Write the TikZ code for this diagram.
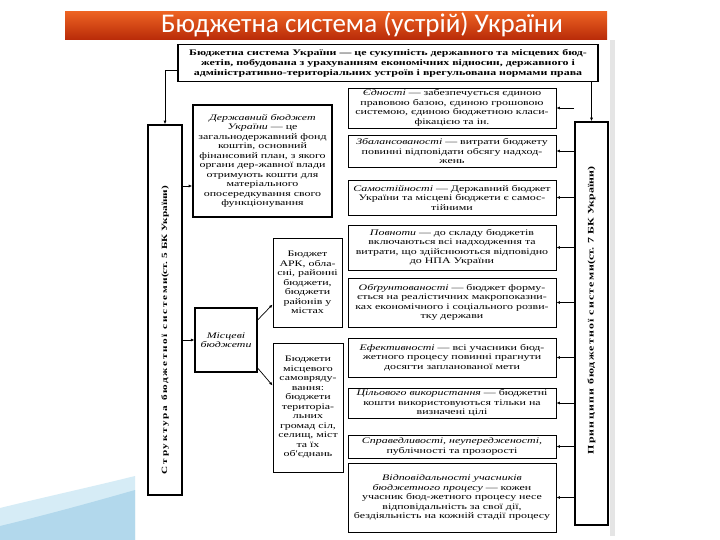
\documentclass[tikz,border=0pt]{standalone}
\usepackage{fontspec}
\setmainfont{Liberation Serif}
\newfontfamily\scanfont{Liberation Serif}[FakeStretch=1.4]
\newfontfamily\titlefont{Carlito}
\usetikzlibrary{arrows.meta}
\definecolor{swoosha}{RGB}{214,236,246}
\definecolor{swooshb}{RGB}{178,216,236}
\definecolor{bartop}{RGB}{236,98,34}
\definecolor{barbottom}{RGB}{184,42,8}

\begin{document}
\begin{tikzpicture}[x=1pt,y=-1pt,
	box/.style={draw, line width=0.9pt, inner sep=1pt, align=center, font=\scanfont\fontsize{8.5}{9.5}\selectfont},
	thickbox/.style={box, line width=1.6pt},
	colbox/.style={draw, line width=1.6pt},
	arr/.style={-{Latex[length=3.5pt,width=3pt]}, line width=0.7pt}]
	\useasboundingbox (0,0) rectangle (720,540);
	% slide background
	\fill[white] (0,0) rectangle (720,540);
	\fill[swoosha] (0,540) -- (0,508) .. controls (45,497) and (95,486) .. (135,476) -- (135,540) -- cycle;
	\fill[swooshb] (0,540) -- (0,526) .. controls (50,514) and (100,500) .. (135,490) -- (135,540) -- cycle;
	\fill[gray!20] (610,40) rectangle (615,536);
	\shade[top color=bartop, bottom color=barbottom] (65,12) rectangle (607,40);
	\node[font=\titlefont\fontsize{27}{29}\selectfont, text=white] (title) at (362,25) {Бюджетна система (устрій) України};
	
	% top definition
	\node[thickbox, minimum width=420, minimum height=37, font=\scanfont\bfseries\fontsize{8.5}{10}\selectfont] (top) at (388,63)
		{Бюджетна система України — це сукупність державного та місцевих бюд-\\жетів, побудована з урахуванням економічних відносин, державного і\\адміністративно-територіальних устроїв і врегульована нормами права};
	
	% structure
	\node[colbox, minimum width=34, minimum height=370] (struct) at (165,310) {};
	\node[rotate=90, font=\scanfont\bfseries\fontsize{8}{9}\selectfont] (structlbl) at ([yshift=-20pt]struct.center)
		{{\addfontfeature{LetterSpace=22}Структура бюджетної системи}(ст. 5 БК України)};
	\node[thickbox, minimum width=139, minimum height=112] (derzh) at (262.5,161)
		{\itshape Державний бюджет\\{\itshape України} — це\\\upshape загальнодержавний фонд\\коштів, основний\\фінансовий план, з якого\\органи дер-жавної влади\\отримують кошти для\\матеріального\\опосередкування свого\\функціонування};
	\node[box, line width=1.2pt, minimum width=62, minimum height=64, font=\scanfont\itshape\fontsize{8.5}{9.5}\selectfont] (mistsevi) at (226,340)
		{Місцеві\\бюджети};
	\node[box, minimum width=69, minimum height=89] (ark) at (307.5,282.5)
		{Бюджет\\АРК, обла-\\сні, районні\\бюджети,\\бюджети\\районів у\\містах};
	\node[box, minimum width=70, minimum height=129] (samovr) at (308,407.5)
		{Бюджети\\місцевого\\самовряду-\\вання:\\бюджети\\територіа-\\льних\\громад сіл,\\селищ, міст\\та їх\\об'єднань};
	
	% principles
	\node[colbox, minimum width=33, minimum height=403] (princ) at (591.5,323.5) {};
	\node[rotate=90, font=\scanfont\bfseries\fontsize{8.5}{9}\selectfont] (princlbl) at ([yshift=13pt]princ.center)
		{{\addfontfeature{LetterSpace=14}Принципи бюджетної системи}(ст. 7 БК України)};
	\node[box, minimum width=208, minimum height=40] (r1) at (452,108)
		{{\itshape Єдності} — забезпечується єдиною\\правовою базою, єдиною грошовою\\системою, єдиною бюджетною класи-\\фікацією та ін.};
	\node[box, minimum width=208, minimum height=32] (r2) at (452,151)
		{{\itshape Збалансованості} — витрати бюджету\\повинні відповідати обсягу надход-\\жень};
	\node[box, minimum width=208, minimum height=35] (r3) at (452,197.5)
		{{\itshape Самостійності} — Державний бюджет\\України та місцеві бюджети є самос-\\тійними};
	\node[box, minimum width=208, minimum height=45] (r4) at (452,247.5)
		{{\itshape Повноти} — до складу бюджетів\\включаються всі надходження та\\витрати, що здійснюються відповідно\\до НПА України};
	\node[box, minimum width=208, minimum height=49] (r5) at (452,302.5)
		{{\itshape Обґрунтованості} — бюджет форму-\\ється на реалістичних макропоказни-\\ках економічного і соціального розви-\\тку держави};
	\node[box, minimum width=208, minimum height=39] (r6) at (452,357.5)
		{{\itshape Ефективності} — всі учасники бюд-\\жетного процесу повинні прагнути\\досягти запланованої мети};
	\node[box, minimum width=208, minimum height=30] (r7) at (452,403)
		{{\itshape Цільового використання} — бюджетні\\кошти використовуються тільки на\\визначені цілі};
	\node[box, minimum width=208, minimum height=23] (r8) at (452,446.5)
		{\itshape Справедливості, неупередженості,\\публічності та прозорості};
	\node[box, minimum width=208, minimum height=69] (r9) at (452,497.5)
		{\itshape Відповідальності учасників\\{\itshape бюджетного процесу} \upshape — кожен\\учасник бюд-жетного процесу несе\\відповідальність за свої дії,\\бездіяльність на кожній стадії процесу};
	
	% connectors
	\draw[arr] ([yshift=-7pt]top.west) -| (struct.north);
	\draw[arr] (princ.north |- top.south) -- (princ.north);
	\draw[arr] (struct.east |- 0,186) -- (derzh.west |- 0,186);
	\draw[arr] (struct.east |- mistsevi.west) -- (mistsevi.west);
	\draw[arr] ([yshift=20pt]mistsevi.east) -- ([yshift=-22pt]ark.west);
	\draw[arr] ([yshift=-28pt]mistsevi.east) -- ([yshift=22pt]samovr.west);
	\draw[arr] (princ.west |- r1.east) -- (r1.east);
	\draw[arr] (princ.west |- r2.east) -- (r2.east);
	\draw[arr] (princ.west |- r3.east) -- (r3.east);
	\draw[arr] (princ.west |- r4.east) -- (r4.east);
	\draw[arr] (princ.west |- r5.east) -- (r5.east);
	\draw[arr] (princ.west |- r6.east) -- (r6.east);
	\draw[arr] (princ.west |- r7.east) -- (r7.east);
	\draw[arr] (princ.west |- r8.east) -- (r8.east);
	\draw[arr] (princ.west |- r9.east) -- (r9.east);
\end{tikzpicture}
\end{document}
